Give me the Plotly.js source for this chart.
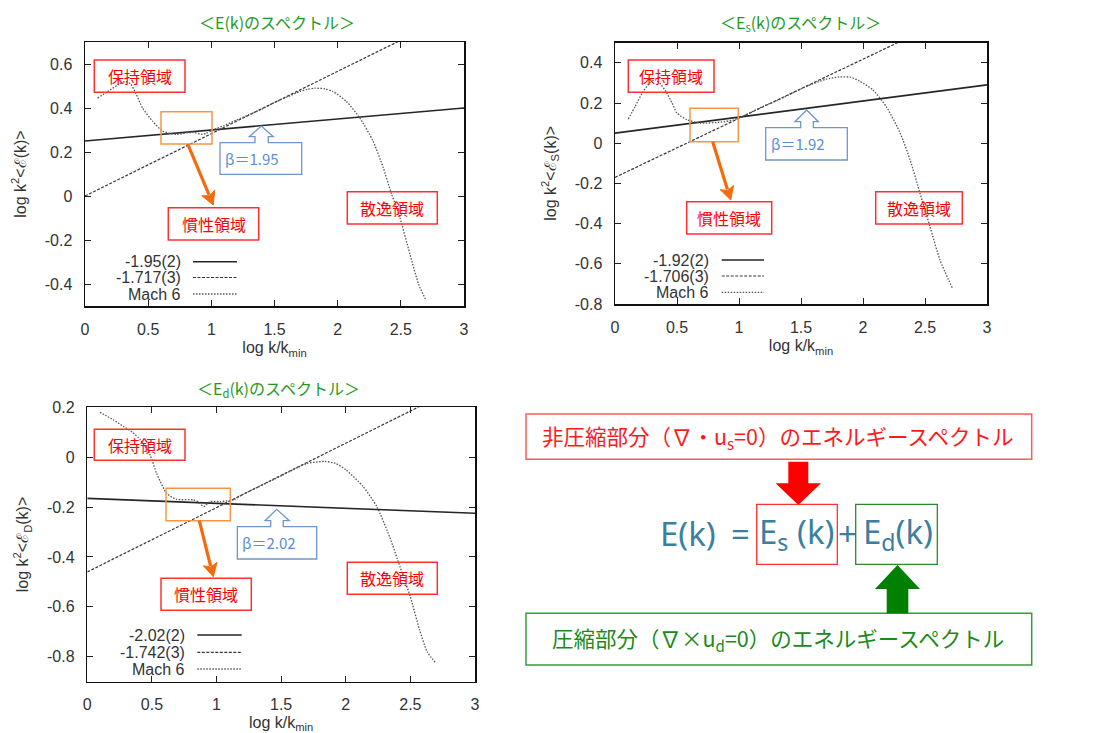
<!DOCTYPE html>
<html><head><meta charset="utf-8">
<script src="https://cdn.plot.ly/plotly-3.0.1.min.js"></script>
<style>body{margin:0;background:#fff}#chart{width:1094px;height:733px}</style>
</head><body><div id="chart"></div>
<script>
const W = 1094, H = 733;

// ---------- data ----------
const fitX = [0, 3];
const xTicks = [0, 0.5, 1, 1.5, 2, 2.5, 3];
const xTickText = ['0', '0.5', '1', '1.5', '2', '2.5', '3'];

// E(k)
const eSolidY = [0.25, 0.40];
const eDashY = [0.0, 0.85];
const eMachX = [0.10, 0.18, 0.26, 0.32, 0.36, 0.40, 0.455, 0.535, 0.614, 0.72, 0.85, 0.93, 0.96, 1.01, 1.1, 1.2, 1.3, 1.4, 1.5, 1.6, 1.7, 1.76, 1.82, 1.9, 1.963, 2.069, 2.175, 2.28, 2.36, 2.426, 2.492, 2.57, 2.64, 2.70];
const eMachY = [0.445, 0.475, 0.505, 0.52, 0.51, 0.47, 0.40, 0.34, 0.295, 0.28, 0.29, 0.28, 0.285, 0.30, 0.32, 0.345, 0.37, 0.395, 0.425, 0.45, 0.475, 0.485, 0.49, 0.487, 0.475, 0.43, 0.355, 0.25, 0.13, 0.01, -0.097, -0.26, -0.40, -0.475];
const eYTicks = [-0.4, -0.2, 0, 0.2, 0.4, 0.6];
const eYTickText = ['-0.4', '-0.2', '0', '0.2', '0.4', '0.6'];
const eLegend = ['-1.95(2)', '-1.717(3)', 'Mach 6'];

// Es(k)
const sSolidY = [0.05, 0.29];
const sDashY = [-0.17, 0.712];
const sMachX = [0.107, 0.16, 0.22, 0.28, 0.32, 0.36, 0.417, 0.46, 0.5, 0.58, 0.69, 0.855, 0.95, 1.016, 1.1, 1.2, 1.3, 1.4, 1.5, 1.6, 1.7, 1.81, 1.9, 1.97, 2.08, 2.19, 2.30, 2.38, 2.46, 2.54, 2.62, 2.72];
const sMachY = [0.12, 0.18, 0.25, 0.30, 0.315, 0.30, 0.25, 0.20, 0.15, 0.117, 0.10, 0.105, 0.115, 0.13, 0.155, 0.185, 0.21, 0.24, 0.27, 0.297, 0.318, 0.33, 0.328, 0.31, 0.265, 0.18, 0.05, -0.083, -0.25, -0.415, -0.58, -0.72];
const sYTicks = [-0.8, -0.6, -0.4, -0.2, 0, 0.2, 0.4];
const sYTickText = ['-0.8', '-0.6', '-0.4', '-0.2', '0', '0.2', '0.4'];
const sLegend = ['-1.92(2)', '-1.706(3)', 'Mach 6'];

// Ed(k)
const dSolidY = [-0.165, -0.225];
const dDashY = [-0.46, 0.314];
const dMachX = [0.098, 0.2, 0.28, 0.35, 0.41, 0.485, 0.536, 0.614, 0.69, 0.82, 0.86, 0.90, 0.95, 1.03, 1.13, 1.2, 1.3, 1.4, 1.5, 1.6, 1.7, 1.84, 1.92, 2.0, 2.135, 2.24, 2.34, 2.42, 2.50, 2.57, 2.63, 2.70];
const dMachY = [0.18, 0.15, 0.123, 0.10, 0.07, 0.01, -0.064, -0.145, -0.169, -0.171, -0.18, -0.198, -0.178, -0.178, -0.171, -0.15, -0.125, -0.10, -0.075, -0.048, -0.025, -0.017, -0.025, -0.05, -0.118, -0.198, -0.32, -0.44, -0.56, -0.69, -0.78, -0.827];
const dYTicks = [-0.8, -0.6, -0.4, -0.2, 0, 0.2];
const dYTickText = ['-0.8', '-0.6', '-0.4', '-0.2', '0', '0.2'];
const dLegend = ['-2.02(2)', '-1.742(3)', 'Mach 6'];

// ---------- helpers ----------
const P = x => x / W;
const Q = y => 1 - y / H;
const SOLID = {color: '#262626', width: 1.6};
const DASH = {color: '#383838', width: 1.2, dash: '3px,1.5px'};
const DOT = {color: '#555', width: 1.3, dash: '1.5px,1.5px'};
const TXT = '#333';
const AXF = {family: 'Liberation Sans, Arial, sans-serif', size: 16, color: TXT};
const CJK = 'Noto Sans CJK JP, sans-serif';

const panels = [
  {xa: 'x', ya: 'y', solid: eSolidY, dash: eDashY, mx: eMachX, my: eMachY, yr: [-0.5, 0.7], yt: eYTicks, ytt: eYTickText,
   box: [85, 42, 464, 306], title: '＜E(k)のスペクトル＞', tpos: [277, 22],
   ytitle: 'log k<sup>2</sup>&lt;ℰ(k)&gt;', legend: eLegend, leg: [183, 193, 237, [261.7, 277.5, 294]],
   keep: [94.3, 60, 185, 92.3], orange: [161, 111.7, 212, 144], arrow: [187.7, 144, 213.3, 205],
   inert: [168.3, 207.7, 258.7, 240], diss: [347.3, 191.7, 437.3, 224], beta: 'β＝1.95',
   call: {b: [220, 142.7, 301.7, 174.3], s: [255, 268.3], hy: 136.7, h: [249.3, 273.3], tip: [261.3, 126]}},
  {xa: 'x2', ya: 'y2', solid: sSolidY, dash: sDashY, mx: sMachX, my: sMachY, yr: [-0.8, 0.5], yt: sYTicks, ytt: sYTickText,
   box: [615, 42.7, 987, 304], title: '＜E<sub>s</sub>(k)のスペクトル＞', tpos: [800, 22],
   ytitle: 'log k<sup>2</sup>&lt;ℰ<sub>S</sub>(k)&gt;', legend: sLegend, leg: [710.7, 721.7, 764, [260, 276, 292.3]],
   keep: [628.3, 60, 714, 92.3], orange: [690, 108.3, 738.3, 141.7], arrow: [712.7, 141.7, 730.7, 200],
   inert: [686.7, 201.7, 771.7, 234], diss: [875.7, 191.7, 962.3, 224], beta: 'β＝1.92',
   call: {b: [765.7, 127.7, 847.3, 160], s: [800.7, 813.3], hy: 121.7, h: [795, 818.3], tip: [806.7, 110]}},
  {xa: 'x3', ya: 'y3', solid: dSolidY, dash: dDashY, mx: dMachX, my: dMachY, yr: [-0.9, 0.2], yt: dYTicks, ytt: dYTickText,
   box: [87.3, 407.3, 475, 681.7], title: '＜E<sub>d</sub>(k)のスペクトル＞', tpos: [278, 388],
   ytitle: 'log k<sup>2</sup>&lt;ℰ<sub>D</sub>(k)&gt;', legend: dLegend, leg: [186.7, 197.3, 241.7, [635, 652.3, 669]],
   keep: [94.3, 429.3, 185, 460.3], orange: [166, 488.3, 230.3, 520.7], arrow: [199.3, 520.7, 213.3, 576.7],
   inert: [161, 578.3, 251.3, 610.3], diss: [347.3, 562.3, 437.3, 594.3], beta: 'β＝2.02',
   call: {b: [237.3, 526.7, 316.7, 559], s: [270.7, 283.3], hy: 520.7, h: [265, 289.3], tip: [276.7, 509.3]}}
];

const data = [];
const layout = {
  width: W, height: H, margin: {l: 0, r: 0, t: 0, b: 0},
  paper_bgcolor: '#fff', plot_bgcolor: '#fff', showlegend: false,
  shapes: [], annotations: []
};

function rect(b, color, w) {
  return {type: 'rect', xref: 'paper', yref: 'paper', x0: P(b[0]), y0: Q(b[3]), x1: P(b[2]), y1: Q(b[1]),
    line: {color: color, width: w || 1.5}, fillcolor: 'rgba(0,0,0,0)', layer: 'above'};
}
function label(b, text, color, size) {
  return {xref: 'paper', yref: 'paper', x: P((b[0] + b[2]) / 2), y: Q((b[1] + b[3]) / 2), text: text,
    showarrow: false, xanchor: 'center', yanchor: 'middle', font: {family: CJK, size: size || 16, color: color}};
}
function path(pts, close) {
  return 'M' + pts.map(p => P(p[0]).toFixed(5) + ',' + Q(p[1]).toFixed(5)).join(' L') + (close ? ' Z' : '');
}
function arrowShapes(a, color) {
  const dx = a[2] - a[0], dy = a[3] - a[1], L = Math.hypot(dx, dy);
  const ux = dx / L, uy = dy / L, hl = 13, hw = 7;
  const bx = a[2] - ux * hl, by = a[3] - uy * hl;
  return [
    {type: 'line', xref: 'paper', yref: 'paper', layer: 'above', x0: P(a[0]), y0: Q(a[1]), x1: P(bx + ux * 2), y1: Q(by + uy * 2),
      line: {color: color, width: 3.2}},
    {type: 'path', xref: 'paper', yref: 'paper', layer: 'above', line: {color: color, width: 1}, fillcolor: color,
      path: path([[a[2], a[3]], [bx - uy * hw, by + ux * hw], [bx + ux * 3, by + uy * 3], [bx + uy * hw, by - ux * hw]], true)}
  ];
}

panels.forEach((p, i) => {
  const n = i === 0 ? '' : String(i + 1);
  data.push({x: fitX, y: p.solid, xaxis: p.xa, yaxis: p.ya, mode: 'lines', line: SOLID, name: p.legend[0], hoverinfo: 'skip'});
  data.push({x: fitX, y: p.dash, xaxis: p.xa, yaxis: p.ya, mode: 'lines', line: DASH, name: p.legend[1], hoverinfo: 'skip'});
  data.push({x: p.mx, y: p.my, xaxis: p.xa, yaxis: p.ya, mode: 'lines', line: Object.assign({shape: 'spline', smoothing: 0.6}, DOT), name: p.legend[2], hoverinfo: 'skip'});

  const common = {showline: true, linecolor: '#111', linewidth: 1.5, mirror: 'ticks', ticks: 'inside', ticklen: 6,
    tickcolor: '#222', tickwidth: 1, showgrid: false, zeroline: false, tickfont: AXF, ticklabelstandoff: 8, fixedrange: true};
  layout['xaxis' + n] = Object.assign({}, common, {domain: [P(p.box[0]), P(p.box[2])], range: [0, 3], anchor: 'y' + n,
    tickvals: xTicks, ticktext: xTickText,
    title: {text: 'log k/k<sub>min</sub>', font: AXF, standoff: 5}});
  layout['yaxis' + n] = Object.assign({}, common, {domain: [Q(p.box[3]), Q(p.box[1])], range: p.yr, anchor: 'x' + n,
    tickvals: p.yt, ticktext: p.ytt,
    title: {text: p.ytitle, font: AXF, standoff: 14}});

  // chart title
  layout.annotations.push({xref: 'paper', yref: 'paper', x: P(p.tpos[0]), y: Q(p.tpos[1]), text: p.title, showarrow: false,
    xanchor: 'center', yanchor: 'middle', font: {family: CJK, size: 16, color: '#1f9a1f'}});

  // legend (gnuplot style)
  const styles = [SOLID, DASH, DOT];
  p.legend.forEach((t, k) => {
    const yy = p.leg[3][k];
    layout.annotations.push({xref: 'paper', yref: 'paper', x: P(p.leg[0]), y: Q(yy), text: t, showarrow: false,
      xanchor: 'right', yanchor: 'middle', font: AXF});
    layout.shapes.push({type: 'line', xref: 'paper', yref: 'paper', x0: P(p.leg[1]), x1: P(p.leg[2]), y0: Q(yy), y1: Q(yy),
      line: styles[k], layer: 'above'});
  });

  // region boxes
  layout.shapes.push(rect(p.keep, '#ff3030'));
  layout.annotations.push(label(p.keep, '保持領域', '#ff0000'));
  layout.shapes.push(rect(p.inert, '#ff3030'));
  layout.annotations.push(label(p.inert, '慣性領域', '#ff0000'));
  layout.shapes.push(rect(p.diss, '#ff3030'));
  layout.annotations.push(label(p.diss, '散逸領域', '#ff0000'));
  layout.shapes.push(rect(p.orange, '#f79646'));
  arrowShapes(p.arrow, '#f46a0c').forEach(s => layout.shapes.push(s));

  // beta callout
  const c = p.call;
  layout.shapes.push({type: 'path', xref: 'paper', yref: 'paper', layer: 'above',
    path: path([[c.b[0], c.b[1]], [c.s[0], c.b[1]], [c.s[0], c.hy], [c.h[0], c.hy], c.tip, [c.h[1], c.hy], [c.s[1], c.hy],
      [c.s[1], c.b[1]], [c.b[2], c.b[1]], [c.b[2], c.b[3]], [c.b[0], c.b[3]]], true),
    line: {color: '#7096cc', width: 1.3}, fillcolor: 'rgba(0,0,0,0)'});
  layout.annotations.push({xref: 'paper', yref: 'paper', x: P(c.b[0] + 3), y: Q((c.b[1] + c.b[3]) / 2), text: p.beta,
    showarrow: false, xanchor: 'left', yanchor: 'middle', font: {family: CJK, size: 15, color: '#5a8ed4'}});
});

// ---------- right-bottom explanation panel ----------
const RED = '#ff1a1a', GREEN = '#1a8a1a', BLUE = '#3a7fa2';
layout.shapes.push(rect([526, 414, 1031.7, 459.3], '#ff5a5a', 1.5));
layout.annotations.push({xref: 'paper', yref: 'paper', x: P(540), y: Q(436.7), xanchor: 'left', yanchor: 'middle', showarrow: false,
  text: '非圧縮部分（∇・u<sub>s</sub>=0）のエネルギースペクトル', font: {family: CJK, size: 21.5, color: RED}});
layout.shapes.push(rect([526, 613.3, 1031.7, 665], '#3a9a3a', 1.5));
layout.annotations.push({xref: 'paper', yref: 'paper', x: P(550), y: Q(639), xanchor: 'left', yanchor: 'middle', showarrow: false,
  text: '圧縮部分（∇×u<sub>d</sub>=0）のエネルギースペクトル', font: {family: CJK, size: 21.5, color: GREEN}});

// big arrows
layout.shapes.push({type: 'path', xref: 'paper', yref: 'paper', layer: 'above', line: {width: 0}, fillcolor: '#ff0000',
  path: path([[788.3, 461.7], [808.3, 461.7], [808.3, 483.3], [821, 483.3], [798.3, 505], [775.6, 483.3], [788.3, 483.3]], true)});
layout.shapes.push({type: 'path', xref: 'paper', yref: 'paper', layer: 'above', line: {width: 0}, fillcolor: '#007f00',
  path: path([[886.7, 613.3], [908.3, 613.3], [908.3, 589], [920, 589], [897.5, 565], [875, 589], [886.7, 589]], true)});

// formula
const FF = {family: 'Noto Sans, Open Sans, sans-serif', size: 33, color: BLUE};
layout.shapes.push(rect([756.7, 504.3, 837.3, 564.3], '#ff3030', 1.3));
layout.shapes.push(rect([855.7, 504.3, 937.3, 564.3], '#2a8a2a', 1.3));
layout.annotations.push({xref: 'paper', yref: 'paper', x: P(687.5), y: Q(533), text: 'E(k)', showarrow: false, xanchor: 'center', yanchor: 'middle', font: FF});
layout.annotations.push({xref: 'paper', yref: 'paper', x: P(740), y: Q(533), text: '=', showarrow: false, xanchor: 'center', yanchor: 'middle', font: FF});
layout.annotations.push({xref: 'paper', yref: 'paper', x: P(797), y: Q(533), text: 'E<sub>s</sub> (k)', showarrow: false, xanchor: 'center', yanchor: 'middle', font: FF});
layout.annotations.push({xref: 'paper', yref: 'paper', x: P(847), y: Q(533), text: '+', showarrow: false, xanchor: 'center', yanchor: 'middle', font: FF});
layout.annotations.push({xref: 'paper', yref: 'paper', x: P(898), y: Q(533), text: 'E<sub>d</sub>(k)', showarrow: false, xanchor: 'center', yanchor: 'middle', font: FF});

Plotly.newPlot('chart', data, layout, {displayModeBar: false, staticPlot: true});
</script>
</body></html>
